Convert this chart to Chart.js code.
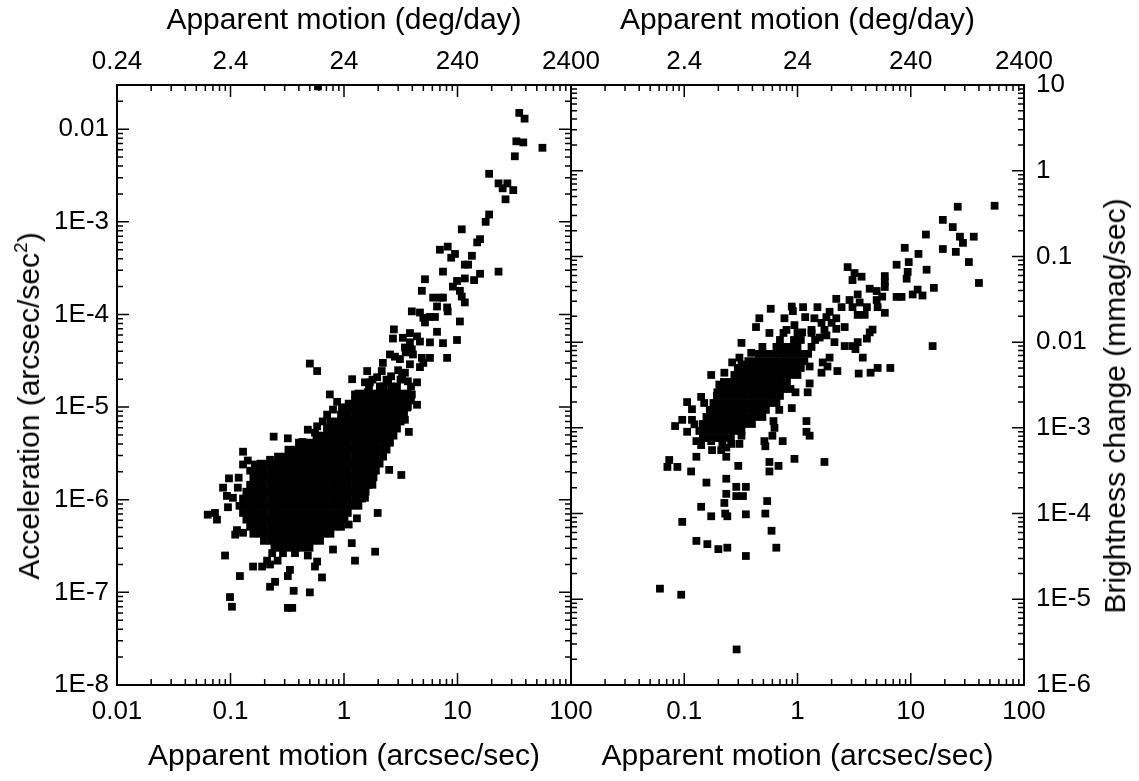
<!DOCTYPE html>
<html><head><meta charset="utf-8">
<script src="https://cdn.jsdelivr.net/npm/chart.js@4.4.1/dist/chart.umd.min.js"></script>
<style>
html,body{margin:0;padding:0;background:#fff;width:1139px;height:781px;overflow:hidden;}
#wrap{position:relative;width:1139px;height:781px;background:#fff;}
canvas{position:absolute;top:0;}
#cA{left:0;}
#cB{left:500px;}
.vt{position:absolute;font-family:"Liberation Sans",Arial,sans-serif;font-size:30px;line-height:1;white-space:nowrap;color:#000;transform:translate(-50%,-50%) rotate(-90deg);}
.sup{font-size:19px;position:relative;top:-12px;}
</style></head>
<body><div id="wrap">
<canvas id="cA" width="640" height="781"></canvas>
<canvas id="cB" width="639" height="781"></canvas>
<div class="vt" style="left:29px;top:406px">Acceleration (arcsec/sec<span class="sup">2</span>)</div>
<div class="vt" style="left:1115px;top:406px">Brightness change (mmag/sec)</div>
</div>
<script>
// ---- tick values / labels ----
const bottomTickValues = [0.01, 0.1, 1, 10, 100];
const bottomTickLabels = ['0.01', '0.1', '1', '10', '100'];
const topTickValues = [0.24, 2.4, 24, 240, 2400];
const topTickLabels = ['0.24', '2.4', '24', '240', '2400'];
const leftYTickValues = [1e-8, 1e-7, 1e-6, 1e-5, 1e-4, 1e-3, 1e-2];
const leftYTickLabels = ['1E-8', '1E-7', '1E-6', '1E-5', '1E-4', '1E-3', '0.01'];
const rightYTickValues = [1e-6, 1e-5, 1e-4, 1e-3, 1e-2, 0.1, 1, 10];
const rightYTickLabels = ['1E-6', '1E-5', '1E-4', '1E-3', '0.01', '0.1', '1', '10'];

// ---- left panel: [apparent motion (arcsec/sec), acceleration (arcsec/sec^2)] ----
const leftPoints = [
[0.59,0.029],[35,0.015],[39,0.013],[33,0.0074],[38,0.0072],[56,0.0063],[32,0.0051],[19,0.0033],[25,0.0023],[27.5,0.0026],[23,0.0026],[31,0.0022],[26.5,0.00175],[19,0.0012],[17.7,0.001],[23,0.00029],
[10.9,8.3e-4],[15.8,6.5e-4],[14.9,6.0e-4],[7.0,5.0e-4],[8.2,5.4e-4],[9.5,4.5e-4],[8.8,4.1e-4],[13.4,4.3e-4],[12.4,3.45e-4],[11.6,3.45e-4],[7.45,2.9e-4],[15.8,2.75e-4],[5.17,2.4e-4],[9.9,2.3e-4],[11.6,2.45e-4],[14.0,2.35e-4],[9.1,2.0e-4],[10.5,1.8e-4],[4.85,1.8e-4],[6.1,1.52e-4],[7.0,1.52e-4],[7.45,1.52e-4],[10.9,1.56e-4],[11.6,1.35e-4],[6.6,1.22e-4],[8.1,1.19e-4],[3.96,1.08e-4],[4.67,1.05e-4],[5.0,9.2e-5],[5.72,9.4e-5],[6.33,9.4e-5],[5.17,8.2e-5],[8.2,1.08e-4],[10.5,8.4e-5],
[2.75,6.9e-5],[6.6,6.5e-5],[2.7,5.5e-5],[3.3,5.6e-5],[3.81,6.3e-5],[4.4,5.8e-5],[3.81,5.0e-5],[4.67,5.1e-5],[5.72,5.0e-5],[7.45,4.9e-5],[9.9,5.3e-5],[3.44,4.4e-5],[3.96,4.2e-5],[3.5,3.9e-5],[2.54,3.7e-5],[2.81,3.5e-5],[3.11,3.3e-5],[4.05,3.7e-5],[4.85,3.4e-5],[5.72,3.4e-5],[8.1,3.4e-5],[5.0,3.0e-5],[4.67,2.7e-5],[2.2,3.0e-5],[3.81,2.9e-5],
[0.50,2.95e-5],[0.58,2.45e-5],[1.6,2.45e-5],[2.15,2.45e-5],[3.0,2.5e-5],[3.44,2.35e-5],[2.6,2.15e-5],[3.25,2.1e-5],[3.65,1.9e-5],[4.4,1.85e-5],[1.18,2.0e-5],[1.53,1.85e-5],[1.69,1.85e-5],[2.07,1.67e-5],[2.45,1.85e-5],[2.6,1.67e-5],[1.96,2.1e-5],[1.62,1.45e-5],[2.4,1.45e-5],[3.0,1.37e-5],[3.96,1.37e-5],[0.75,1.37e-5],[1.25,1.37e-5],[1.41,1.28e-5],[1.96,1.28e-5],[2.54,1.2e-5],
[0.87,1.14e-5],[1.1,1.09e-5],[1.76,1.06e-5],[2.2,1.11e-5],[2.9,1.06e-5],[3.65,1.03e-5],[4.4,1.06e-5],[0.96,9.9e-6],[0.8,9.4e-6],[1.41,9.4e-6],[1.69,8.9e-6],[2.07,8.9e-6],[2.65,9.4e-6],[0.71,8.3e-6],[1.3,7.9e-6],[1.53,7.7e-6],[1.96,7.7e-6],[2.4,7.7e-6],[3.11,8.3e-6],[3.44,7.3e-6],[0.65,7.0e-6],[0.85,6.8e-6],[1.13,6.8e-6],[1.47,6.5e-6],[1.96,6.2e-6],[2.54,6.2e-6],[3.2,7.3e-6],
[0.58,6.2e-6],[0.48,5.7e-6],[0.98,5.7e-6],[1.2,5.7e-6],[1.69,5.7e-6],[2.2,5.4e-6],[3.73,5.4e-6],[0.555,5.3e-6],[0.75,5.0e-6],[1.32,5.1e-6],[1.88,5.0e-6],[0.64,4.6e-6],[0.85,4.6e-6],[1.06,4.5e-6],[1.53,4.6e-6],[2.15,4.5e-6],[0.24,4.8e-6],[0.32,4.6e-6],[0.43,4.2e-6],
[1.38,6.5e-6],[1.76,7.3e-6],[2.3,8.9e-6],[2.81,1.14e-5],[2.45,9.9e-6],[1.6,5.4e-6],[1.3,4.8e-6],[2.81,6.5e-6],[1.13,4.8e-6],[0.92,5.4e-6],
[1.78,1.98e-5],[2.37,1.98e-5],[3.15,1.98e-5],
[1.66,1.67e-5],[2.21,1.67e-5],[2.93,1.67e-5],[3.89,1.67e-5],
[1.34,1.40e-5],[1.55,1.40e-5],[1.78,1.40e-5],[2.06,1.40e-5],[2.37,1.40e-5],[2.73,1.40e-5],[3.15,1.40e-5],[3.62,1.40e-5],
[1.25,1.18e-5],[1.44,1.18e-5],[1.66,1.18e-5],[1.91,1.18e-5],[2.21,1.18e-5],[2.54,1.18e-5],[2.93,1.18e-5],[3.38,1.18e-5],[3.89,1.18e-5],
[1.01,9.9e-6],[1.16,9.9e-6],[1.34,9.9e-6],[1.55,9.9e-6],[1.78,9.9e-6],[2.06,9.9e-6],[2.37,9.9e-6],[2.73,9.9e-6],[3.15,9.9e-6],[3.62,9.9e-6],
[0.941,8.3e-6],[1.08,8.3e-6],[1.25,8.3e-6],[1.44,8.3e-6],[1.66,8.3e-6],[1.91,8.3e-6],[2.21,8.3e-6],[2.54,8.3e-6],[2.93,8.3e-6],[3.38,8.3e-6],
[0.76,7.0e-6],[0.877,7.0e-6],[1.01,7.0e-6],[1.16,7.0e-6],[1.34,7.0e-6],[1.55,7.0e-6],[1.78,7.0e-6],[2.06,7.0e-6],[2.37,7.0e-6],[2.73,7.0e-6],[3.15,7.0e-6],
[0.708,5.86e-6],[0.817,5.86e-6],[0.941,5.86e-6],[1.08,5.86e-6],[1.25,5.86e-6],[1.44,5.86e-6],[1.66,5.86e-6],[1.91,5.86e-6],[2.21,5.86e-6],[2.54,5.86e-6],[2.93,5.86e-6],
[0.573,4.92e-6],[0.659,4.92e-6],[0.76,4.92e-6],[0.877,4.92e-6],[1.01,4.92e-6],[1.16,4.92e-6],[1.34,4.92e-6],[1.55,4.92e-6],[1.78,4.92e-6],[2.06,4.92e-6],[2.37,4.92e-6],[2.73,4.92e-6],
[0.401,4.13e-6],[0.462,4.13e-6],[0.533,4.13e-6],[0.615,4.13e-6],[0.708,4.13e-6],[0.817,4.13e-6],[0.941,4.13e-6],[1.08,4.13e-6],[1.25,4.13e-6],[1.44,4.13e-6],[1.66,4.13e-6],[1.91,4.13e-6],[2.21,4.13e-6],[2.54,4.13e-6],
[0.324,3.47e-6],[0.374,3.47e-6],[0.431,3.47e-6],[0.497,3.47e-6],[0.573,3.47e-6],[0.659,3.47e-6],[0.76,3.47e-6],[0.877,3.47e-6],[1.01,3.47e-6],[1.16,3.47e-6],[1.34,3.47e-6],[1.55,3.47e-6],[1.78,3.47e-6],[2.06,3.47e-6],[2.37,3.47e-6],
[0.262,2.92e-6],[0.302,2.92e-6],[0.348,2.92e-6],[0.401,2.92e-6],[0.462,2.92e-6],[0.533,2.92e-6],[0.615,2.92e-6],[0.708,2.92e-6],[0.817,2.92e-6],[0.941,2.92e-6],[1.08,2.92e-6],[1.25,2.92e-6],[1.44,2.92e-6],[1.66,2.92e-6],[1.91,2.92e-6],[2.21,2.92e-6],
[0.184,2.45e-6],[0.212,2.45e-6],[0.244,2.45e-6],[0.281,2.45e-6],[0.324,2.45e-6],[0.374,2.45e-6],[0.431,2.45e-6],[0.497,2.45e-6],[0.573,2.45e-6],[0.659,2.45e-6],[0.76,2.45e-6],[0.877,2.45e-6],[1.01,2.45e-6],[1.16,2.45e-6],[1.34,2.45e-6],[1.55,2.45e-6],[1.78,2.45e-6],[2.06,2.45e-6],
[0.149,2.06e-6],[0.171,2.06e-6],[0.197,2.06e-6],[0.228,2.06e-6],[0.262,2.06e-6],[0.302,2.06e-6],[0.348,2.06e-6],[0.401,2.06e-6],[0.462,2.06e-6],[0.533,2.06e-6],[0.615,2.06e-6],[0.708,2.06e-6],[0.817,2.06e-6],[0.941,2.06e-6],[1.08,2.06e-6],[1.25,2.06e-6],[1.44,2.06e-6],[1.66,2.06e-6],[1.91,2.06e-6],
[0.159,1.73e-6],[0.184,1.73e-6],[0.212,1.73e-6],[0.244,1.73e-6],[0.281,1.73e-6],[0.324,1.73e-6],[0.374,1.73e-6],[0.431,1.73e-6],[0.497,1.73e-6],[0.573,1.73e-6],[0.659,1.73e-6],[0.76,1.73e-6],[0.877,1.73e-6],[1.01,1.73e-6],[1.16,1.73e-6],[1.34,1.73e-6],[1.55,1.73e-6],[1.78,1.73e-6],
[0.149,1.45e-6],[0.171,1.45e-6],[0.197,1.45e-6],[0.228,1.45e-6],[0.262,1.45e-6],[0.302,1.45e-6],[0.348,1.45e-6],[0.401,1.45e-6],[0.462,1.45e-6],[0.533,1.45e-6],[0.615,1.45e-6],[0.708,1.45e-6],[0.817,1.45e-6],[0.941,1.45e-6],[1.08,1.45e-6],[1.25,1.45e-6],[1.44,1.45e-6],[1.66,1.45e-6],
[0.138,1.22e-6],[0.159,1.22e-6],[0.184,1.22e-6],[0.212,1.22e-6],[0.244,1.22e-6],[0.281,1.22e-6],[0.324,1.22e-6],[0.374,1.22e-6],[0.431,1.22e-6],[0.497,1.22e-6],[0.573,1.22e-6],[0.659,1.22e-6],[0.76,1.22e-6],[0.877,1.22e-6],[1.01,1.22e-6],[1.16,1.22e-6],[1.34,1.22e-6],[1.55,1.22e-6],
[0.129,1.03e-6],[0.149,1.03e-6],[0.171,1.03e-6],[0.197,1.03e-6],[0.228,1.03e-6],[0.262,1.03e-6],[0.302,1.03e-6],[0.348,1.03e-6],[0.401,1.03e-6],[0.462,1.03e-6],[0.533,1.03e-6],[0.615,1.03e-6],[0.708,1.03e-6],[0.817,1.03e-6],[0.941,1.03e-6],[1.08,1.03e-6],[1.25,1.03e-6],[1.44,1.03e-6],
[0.12,8.6e-7],[0.138,8.6e-7],[0.159,8.6e-7],[0.184,8.6e-7],[0.212,8.6e-7],[0.244,8.6e-7],[0.281,8.6e-7],[0.324,8.6e-7],[0.374,8.6e-7],[0.431,8.6e-7],[0.497,8.6e-7],[0.573,8.6e-7],[0.659,8.6e-7],[0.76,8.6e-7],[0.877,8.6e-7],[1.01,8.6e-7],[1.16,8.6e-7],[1.34,8.6e-7],
[0.129,7.2e-7],[0.149,7.2e-7],[0.171,7.2e-7],[0.197,7.2e-7],[0.228,7.2e-7],[0.262,7.2e-7],[0.302,7.2e-7],[0.348,7.2e-7],[0.401,7.2e-7],[0.462,7.2e-7],[0.533,7.2e-7],[0.615,7.2e-7],[0.708,7.2e-7],[0.817,7.2e-7],[0.941,7.2e-7],[1.08,7.2e-7],
[0.138,6.1e-7],[0.159,6.1e-7],[0.184,6.1e-7],[0.212,6.1e-7],[0.244,6.1e-7],[0.281,6.1e-7],[0.324,6.1e-7],[0.374,6.1e-7],[0.431,6.1e-7],[0.497,6.1e-7],[0.573,6.1e-7],[0.659,6.1e-7],[0.76,6.1e-7],[0.877,6.1e-7],[1.01,6.1e-7],
[0.149,5.1e-7],[0.171,5.1e-7],[0.197,5.1e-7],[0.228,5.1e-7],[0.262,5.1e-7],[0.302,5.1e-7],[0.348,5.1e-7],[0.401,5.1e-7],[0.462,5.1e-7],[0.533,5.1e-7],[0.615,5.1e-7],[0.708,5.1e-7],[0.817,5.1e-7],[0.941,5.1e-7],
[0.159,4.29e-7],[0.184,4.29e-7],[0.212,4.29e-7],[0.244,4.29e-7],[0.281,4.29e-7],[0.324,4.29e-7],[0.374,4.29e-7],[0.431,4.29e-7],[0.497,4.29e-7],[0.573,4.29e-7],[0.659,4.29e-7],[0.76,4.29e-7],
[0.197,3.6e-7],[0.228,3.6e-7],[0.262,3.6e-7],[0.302,3.6e-7],[0.348,3.6e-7],[0.401,3.6e-7],[0.462,3.6e-7],[0.533,3.6e-7],[0.615,3.6e-7],
[0.244,3.03e-7],[0.281,3.03e-7],[0.324,3.03e-7],[0.374,3.03e-7],[0.431,3.03e-7],[0.497,3.03e-7],
[0.129,3.3e-6],[0.142,2.65e-6],[0.223,2.7e-6],[0.129,2.4e-6],[0.164,2.4e-6],[0.097,1.7e-6],[0.118,1.73e-6],[0.086,1.35e-6],[0.116,1.35e-6],[0.093,1.1e-6],[0.105,1.05e-6],[0.095,8.3e-7],[0.063,6.9e-7],[0.073,7.2e-7],[0.076,6.1e-7],
[2.5,2.1e-6],[3.2,1.85e-6],[1.98,7.2e-7],[1.78,1.45e-6],[1.53,1.05e-6],[1.3,6.3e-7],[1.1,5.4e-7],[1.82,1.75e-6],[0.129,4.4e-7],
[0.114,4.7e-7],[0.11,4.2e-7],[1.17,3.4e-7],[0.8,2.9e-7],[1.88,2.75e-7],[0.0895,2.5e-7],[0.233,2.65e-7],[0.29,2.65e-7],[0.37,2.65e-7],[0.48,2.5e-7],[0.58,2.15e-7],[1.25,2.2e-7],[0.21,2.2e-7],[0.26,2.2e-7],[0.158,1.9e-7],[0.19,1.9e-7],[0.223,2.0e-7],[0.334,1.75e-7],[0.555,1.9e-7],[0.121,1.5e-7],[0.32,1.5e-7],[0.64,1.45e-7],[0.247,1.3e-7],[0.223,1.15e-7],[0.36,1.04e-7],[0.50,1.0e-7],[0.099,8.9e-8],[0.103,7.0e-8],[0.32,6.8e-8],[0.35,6.8e-8]
];

// ---- right panel: [apparent motion (arcsec/sec), brightness change (mmag/sec)] ----
const rightPoints = [
[26,0.38],[55,0.39],[19.2,0.267],[23.5,0.22],[27.2,0.17],[36,0.17],[28.9,0.144],[13.6,0.18],[8.85,0.126],[19.2,0.122],[25,0.113],[11.7,0.107],[32.6,0.086],[9.6,0.086],[7.5,0.08],[9.4,0.066],[13.8,0.07],[9.2,0.055],[40,0.049],
[2.77,0.075],[3.19,0.064],[3.68,0.058],[3.06,0.053],[5.9,0.059],[5.9,0.0505],[5.9,0.044],[4.34,0.042],[5.0,0.0395],[16,0.043],[11.5,0.041],[12.7,0.035],[10.4,0.036],[7.5,0.0337],[8.3,0.0337],[2.2,0.032],[2.88,0.031],[3.4,0.036],[3.54,0.029],[5.0,0.031],[5.6,0.034],[3.06,0.0256],[2.45,0.0256],[4.1,0.0256],[5.1,0.0256],[3.4,0.0208],[3.92,0.0208],[5.9,0.022],
[0.58,0.0245],[0.89,0.026],[0.91,0.023],[1.12,0.0256],[1.5,0.0256],[1.92,0.0226],[0.46,0.019],[0.767,0.019],[1.17,0.0196],[1.41,0.019],[1.8,0.0196],[2.2,0.019],[0.43,0.015],[0.94,0.0158],[1.63,0.0168],[2.0,0.0168],[2.61,0.015],[0.565,0.0128],[0.8,0.0139],[1.1,0.013],[1.33,0.0139],[1.73,0.0139],[2.2,0.0143],[4.6,0.014],[4.34,0.013],[4.1,0.011],[1.57,0.0113],[1.8,0.012],
[0.32,9.8e-3],[2.12,0.01],[3.4,0.01],[2.61,9.0e-3],[3.06,9.0e-3],[3.25,8.3e-3],[15.6,9.0e-3],[0.39,7.5e-3],[3.77,6.6e-3],[0.307,6.6e-3],[0.265,5.8e-3],[0.32,5.5e-3],
[1.28,5.2e-3],[1.67,5.8e-3],[1.92,6.6e-3],[1.84,5.2e-3],[2.25,4.6e-3],[3.47,4.3e-3],[4.42,4.4e-3],[5.1,5.0e-3],[6.6,5.0e-3],[0.173,4.14e-3],[0.226,4.4e-3],[1.63,4.4e-3],[0.204,3.2e-3],[1.28,3.3e-3],[1.23,2.6e-3],[0.96,2.6e-3],[0.196,2.6e-3],
[0.106,2.0e-3],[0.141,2.3e-3],[0.15,1.95e-3],[0.89,1.7e-3],[0.69,1.62e-3],[0.117,1.65e-3],[0.096,1.24e-3],[0.117,1.24e-3],[0.614,1.2e-3],[1.2,1.2e-3],[0.083,1.05e-3],[0.106,9.0e-4],[0.123,1.1e-3],[0.626,1.0e-3],[1.2,9.0e-4],[1.28,8.1e-4],[0.32,8.1e-4],
[0.128,7.0e-4],[0.173,7.0e-4],[0.217,6.7e-4],[0.26,6.5e-4],[0.307,6.5e-4],[0.51,7.0e-4],[0.6,8.1e-4],[0.74,7.0e-4],[0.141,6.3e-4],[0.176,5.5e-4],[0.212,5.5e-4],[0.235,5.9e-4],[0.52,6.1e-4],[0.128,4.6e-4],[0.235,4.6e-4],
[0.0737,4.22e-4],[0.071,3.5e-4],[0.087,3.5e-4],[0.115,3.1e-4],[0.3,3.6e-4],[0.565,4.0e-4],[0.565,3.1e-4],[0.68,3.6e-4],[0.94,4.35e-4],[1.73,4.0e-4],[0.235,2.55e-4],[0.157,2.3e-4],[0.288,2.05e-4],[0.35,2.05e-4],[0.288,1.6e-4],[0.33,1.6e-4],[0.235,1.7e-4],[0.54,1.4e-4],
[0.141,1.2e-4],[0.226,1.33e-4],[0.173,9.3e-5],[0.23,1.0e-4],[0.24,9.3e-5],[0.35,9.8e-5],[0.52,1.0e-4],[0.096,8.0e-5],[0.59,6.3e-5],[0.128,4.8e-5],[0.16,4.4e-5],[0.2,3.85e-5],[0.24,4.0e-5],[0.65,4.0e-5],[0.35,3.2e-5],[0.061,1.33e-5],[0.094,1.13e-5],[0.29,2.6e-6],
[0.752,0.0128],[1.0,0.0128],[1.33,0.0128],
[0.70,0.0106],[0.931,0.0106],[1.07,0.0106],[1.43,0.0106],
[0.49,8.8e-3],[0.652,8.8e-3],[0.752,8.8e-3],[0.867,8.8e-3],[1.0,8.8e-3],[1.33,8.8e-3],
[0.456,7.3e-3],[0.526,7.3e-3],[0.607,7.3e-3],[0.70,7.3e-3],[0.807,7.3e-3],[0.931,7.3e-3],[1.07,7.3e-3],[1.24,7.3e-3],
[0.368,6.0e-3],[0.425,6.0e-3],[0.49,6.0e-3],[0.565,6.0e-3],[0.652,6.0e-3],[0.752,6.0e-3],[0.867,6.0e-3],[1.0,6.0e-3],[1.15,6.0e-3],
[0.297,5.0e-3],[0.343,5.0e-3],[0.396,5.0e-3],[0.456,5.0e-3],[0.526,5.0e-3],[0.607,5.0e-3],[0.70,5.0e-3],[0.807,5.0e-3],[0.931,5.0e-3],[1.07,5.0e-3],
[0.277,4.14e-3],[0.32,4.14e-3],[0.368,4.14e-3],[0.425,4.14e-3],[0.49,4.14e-3],[0.565,4.14e-3],[0.652,4.14e-3],[0.752,4.14e-3],[0.867,4.14e-3],[1.0,4.14e-3],
[0.224,3.43e-3],[0.258,3.43e-3],[0.297,3.43e-3],[0.343,3.43e-3],[0.396,3.43e-3],[0.456,3.43e-3],[0.526,3.43e-3],[0.607,3.43e-3],[0.70,3.43e-3],[0.807,3.43e-3],
[0.208,2.84e-3],[0.24,2.84e-3],[0.277,2.84e-3],[0.32,2.84e-3],[0.368,2.84e-3],[0.425,2.84e-3],[0.49,2.84e-3],[0.565,2.84e-3],[0.652,2.84e-3],[0.752,2.84e-3],[0.867,2.84e-3],
[0.194,2.36e-3],[0.224,2.36e-3],[0.258,2.36e-3],[0.297,2.36e-3],[0.343,2.36e-3],[0.396,2.36e-3],[0.456,2.36e-3],[0.526,2.36e-3],[0.607,2.36e-3],[0.70,2.36e-3],
[0.181,1.95e-3],[0.208,1.95e-3],[0.24,1.95e-3],[0.277,1.95e-3],[0.32,1.95e-3],[0.368,1.95e-3],[0.425,1.95e-3],[0.49,1.95e-3],[0.565,1.95e-3],[0.652,1.95e-3],
[0.168,1.62e-3],[0.194,1.62e-3],[0.224,1.62e-3],[0.258,1.62e-3],[0.297,1.62e-3],[0.343,1.62e-3],[0.396,1.62e-3],[0.456,1.62e-3],[0.526,1.62e-3],
[0.157,1.34e-3],[0.181,1.34e-3],[0.208,1.34e-3],[0.24,1.34e-3],[0.277,1.34e-3],[0.32,1.34e-3],[0.368,1.34e-3],[0.425,1.34e-3],[0.49,1.34e-3],
[0.146,1.11e-3],[0.168,1.11e-3],[0.194,1.11e-3],[0.224,1.11e-3],[0.258,1.11e-3],[0.297,1.11e-3],[0.343,1.11e-3],[0.396,1.11e-3],
[0.136,9.2e-4],[0.157,9.2e-4],[0.181,9.2e-4],[0.208,9.2e-4],[0.24,9.2e-4],[0.277,9.2e-4],[0.32,9.2e-4],
[0.146,7.6e-4],[0.168,7.6e-4],[0.194,7.6e-4],[0.224,7.6e-4],[0.258,7.6e-4]
];

const FONT = '"Liberation Sans", Arial, Helvetica, sans-serif';
Chart.defaults.font.family = FONT;
Chart.defaults.color = '#000';

// inward ticks on all four sides + frame, positioned through the chart's scales
const frameTicks = {
  id: 'frameTicks',
  afterDatasetsDraw(chart) {
    const {ctx, chartArea: a, scales} = chart;
    const xs = scales.x, ys = scales.y;
    ctx.save();
    ctx.strokeStyle = '#000';
    ctx.lineWidth = 1.5;
    ctx.beginPath();
    const eachTick = (sc, fn) => {
      const e0 = Math.floor(Math.log10(sc.min)), e1 = Math.ceil(Math.log10(sc.max));
      for (let e = e0; e <= e1; e++) {
        for (let m = 1; m <= 9; m++) {
          const v = m * Math.pow(10, e);
          if (v < sc.min * 0.9999 || v > sc.max * 1.0001) continue;
          fn(sc.getPixelForValue(v), m === 1 ? 12 : 6);
        }
      }
    };
    eachTick(xs, (p, len) => {
      ctx.moveTo(p, a.bottom); ctx.lineTo(p, a.bottom - len);
      ctx.moveTo(p, a.top); ctx.lineTo(p, a.top + len);
    });
    eachTick(ys, (p, len) => {
      ctx.moveTo(a.left, p); ctx.lineTo(a.left + len, p);
      ctx.moveTo(a.right, p); ctx.lineTo(a.right - len, p);
    });
    ctx.stroke();
    ctx.lineWidth = 2;
    ctx.strokeRect(a.left, a.top, a.right - a.left, a.bottom - a.top);
    ctx.restore();
  }
};

function axisX(values, labels, hideFirst, pos, title, padTick, titlePad, h, min, max) {
  return {
    type: 'logarithmic', position: pos, min: min, max: max,
    grid: {display: false, drawTicks: false}, border: {display: false},
    afterBuildTicks: s => { s.ticks = values.map(v => ({value: v})); },
    afterFit: s => { s.height = h; },
    ticks: {autoSkip: false, maxRotation: 0, minRotation: 0, padding: padTick,
      font: {size: 26}, color: '#000',
      callback: (v, i) => (hideFirst && i === 0) ? '' : labels[i]},
    title: {display: true, text: title, font: {size: 30}, color: '#000', padding: titlePad}
  };
}

function makeChart(id, points, yCfg, hideFirst, padding) {
  return new Chart(document.getElementById(id), {
    type: 'scatter',
    data: {datasets: [{
      data: points.map(p => ({x: p[0], y: p[1]})),
      pointStyle: 'rect', pointRadius: 5.5, pointHoverRadius: 5.5,
      pointBorderWidth: 0, backgroundColor: '#000', borderColor: '#000'
    }]},
    options: {
      responsive: false, animation: false, devicePixelRatio: 1, events: [],
      layout: {padding: padding},
      plugins: {legend: {display: false}, tooltip: {enabled: false}},
      scales: {
        x: axisX(bottomTickValues, bottomTickLabels, hideFirst, 'bottom', 'Apparent motion (arcsec/sec)', 11, {top: 0, bottom: 6}, 96, 0.01, 100),
        x2: axisX(topTickValues, topTickLabels, hideFirst, 'top', 'Apparent motion (deg/day)', 8, {top: 3, bottom: 0}, 85, 0.24, 2400),
        y: yCfg
      }
    },
    plugins: [frameTicks]
  });
}

makeChart('cA', leftPoints, {
  type: 'logarithmic', position: 'left', min: 1e-8, max: 0.03,
  grid: {display: false, drawTicks: false}, border: {display: false},
  afterBuildTicks: s => { s.ticks = leftYTickValues.map(v => ({value: v})); },
  afterFit: s => { s.width = 117; },
  ticks: {autoSkip: false, padding: 8, font: {size: 26}, color: '#000', callback: (v, i) => leftYTickLabels[i]}
}, false, {left: 0, right: 69, top: 0, bottom: 0});

makeChart('cB', rightPoints, {
  type: 'logarithmic', position: 'right', min: 1e-6, max: 10,
  grid: {display: false, drawTicks: false}, border: {display: false},
  afterBuildTicks: s => { s.ticks = rightYTickValues.map(v => ({value: v})); },
  afterFit: s => { s.width = 115; },
  ticks: {autoSkip: false, padding: 12, font: {size: 26}, color: '#000', callback: (v, i) => rightYTickLabels[i]}
}, true, {left: 71, right: 0, top: 0, bottom: 0});
</script>
</body></html>
